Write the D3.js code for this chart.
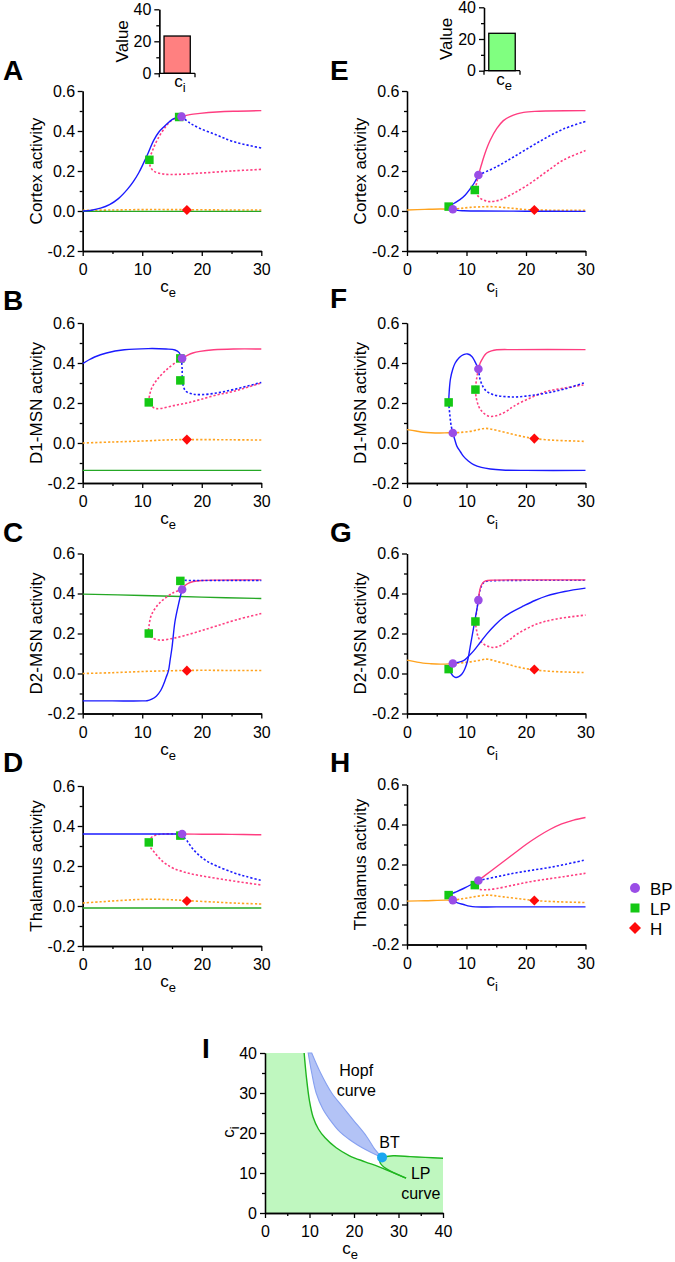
<!DOCTYPE html>
<html><head><meta charset="utf-8">
<script src="https://cdn.jsdelivr.net/npm/d3@7"></script>
<style>body{margin:0;background:#fff;}svg{display:block;background:#fff;}</style>
</head><body>
<svg id="c" width="675" height="1262"></svg>
<script>
// ---------- DATA ----------
const xTicks = [0, 10, 20, 30];
const xMinor = [5, 15, 25];
const yTicks = [-0.2, 0, 0.2, 0.4, 0.6];
const yMinor = [-0.1, 0.1, 0.3, 0.5];
const yLabels = ["Cortex activity", "D1-MSN activity", "D2-MSN activity", "Thalamus activity"];
const barTicks = [0, 20, 40];
const barMinor = [10, 30];
const barLeftCat = ["i"];   const barLeftVal = [23.3];
const barRightCat = ["e"];  const barRightVal = [23.6];
const legendNames = ["BP", "LP", "H"];
const iTicks = [0, 10, 20, 30, 40];
const iMinor = [5, 15, 25, 35];

// Panel A (vs c_e)
const A_blueS = [[0,0],[1.5,0.004],[3,0.014],[4.5,0.032],[6,0.062],[7.5,0.108],[8.5,0.147],[9.4,0.19],[10.2,0.238],[11,0.29],[11.9,0.352],[12.8,0.395],[13.6,0.42],[14.5,0.445],[15.3,0.462],[16.6,0.472]];
const A_blueU = [[16.6,0.472],[18,0.44],[19.7,0.413],[22.5,0.38],[25.3,0.347],[30,0.315]];
const A_pinkS = [[16.6,0.472],[18,0.482],[19.7,0.488],[22.5,0.495],[25.3,0.499],[30,0.502]];
const A_pinkU = [[16.2,0.47],[15,0.455],[13.9,0.42],[12.6,0.36],[11.7,0.3],[11.2,0.256],[11.4,0.22],[12,0.198],[13.5,0.185],[16,0.183],[20,0.19],[25,0.2],[30,0.208]];
const A_orangeU = [[0,0.003],[5,0.005],[10,0.007],[15,0.007],[20,0.006],[25,0.005],[30,0.005]];
const A_greenS = [[0,-0.002],[30,-0.002]];
const A_BP = [[16.6,0.472]]; const A_LP = [[16.2,0.47],[11.2,0.256]]; const A_H = [[17.5,0.005]];

// Panel B
const B_blueS = [[0,0.397],[1,0.415],[2,0.43],[4,0.45],[7,0.466],[11,0.472],[14,0.47],[15.5,0.465],[16.2,0.452],[16.6,0.423]];
const B_blueU = [[16.6,0.423],[16.7,0.37],[16.8,0.3],[17.3,0.26],[18.5,0.245],[20,0.242],[22.5,0.25],[25.3,0.267],[30,0.303]];
const B_pinkS = [[16.6,0.423],[17.5,0.437],[18.5,0.45],[19.7,0.458],[22,0.466],[25.3,0.47],[30,0.47]];
const B_pinkU = [[16.6,0.423],[14.4,0.375],[12.5,0.317],[11.6,0.275],[11.2,0.233],[11.1,0.203],[11.9,0.177],[12.4,0.172],[13,0.172],[15.3,0.187],[17.5,0.2],[19.7,0.217],[22.5,0.24],[25.3,0.258],[30,0.3]];
const B_orangeU = [[0,0],[5,0.005],[10,0.01],[15,0.016],[20,0.017],[25,0.016],[30,0.015]];
const B_greenS = [[0,-0.137],[30,-0.137]];
const B_BP = [[16.7,0.423]]; const B_LP = [[16.4,0.423],[16.4,0.313],[11.1,0.203]]; const B_H = [[17.5,0.017]];

// Panel C
const C_greenS = [[0,0.397],[10,0.39],[20,0.382],[30,0.375]];
const C_blueS = [[0,-0.137],[5,-0.137],[10,-0.137],[10.8,-0.136],[11.6,-0.128],[12.4,-0.112],[13.1,-0.085],[13.6,-0.053],[14,-0.02],[14.4,0.013],[14.7,0.07],[15,0.13],[15.5,0.26],[16.1,0.347],[16.7,0.42]];
const C_blueU = [[16.7,0.42],[16.5,0.445],[16.5,0.463],[18,0.465],[22,0.465],[30,0.465]];
const C_pinkS = [[16.7,0.42],[17.2,0.44],[17.8,0.452],[18.6,0.46],[20,0.465],[22.5,0.467],[30,0.468]];
const C_pinkU = [[16.7,0.42],[15.3,0.405],[13,0.355],[11.6,0.297],[11.15,0.24],[11.1,0.2],[11.6,0.18],[13,0.167],[15,0.175],[16.9,0.188],[19.7,0.212],[22.5,0.238],[26,0.27],[30,0.3]];
const C_orangeU = [[0,0],[5,0.004],[10,0.01],[15,0.014],[20,0.016],[25,0.015],[30,0.015]];
const C_BP = [[16.7,0.42]]; const C_LP = [[16.4,0.463],[11.1,0.2]]; const C_H = [[17.5,0.014]];

// Panel D
const D_blueS = [[0,0.36],[16.6,0.36]];
const D_blueU = [[16.6,0.36],[17,0.345],[17.5,0.327],[18.5,0.285],[19.7,0.25],[21,0.222],[22.5,0.2],[25.3,0.167],[27.5,0.147],[30,0.128]];
const D_pinkS = [[16.6,0.36],[20,0.359],[25,0.358],[30,0.356]];
const D_pinkU = [[16.6,0.36],[13.5,0.36],[12.2,0.354],[11.4,0.338],[11.1,0.318],[11.4,0.293],[12,0.27],[13,0.235],[14,0.21],[15.3,0.188],[17.5,0.166],[19.7,0.152],[22.5,0.138],[25.3,0.125],[30,0.105]];
const D_orangeU = [[0,0.015],[3,0.021],[6,0.027],[9,0.032],[12,0.034],[15,0.031],[18,0.026],[22,0.02],[26,0.014],[30,0.01]];
const D_greenS = [[0,-0.01],[30,-0.01]];
const D_BP = [[16.7,0.36]]; const D_LP = [[16.4,0.352],[11.1,0.318]]; const D_H = [[17.5,0.025]];

// Panel E (vs c_i)
const E_orangeS = [[0,0.005],[3,0.008],[5.5,0.01],[7.7,0.009]];
const E_orangeU = [[7.7,0.009],[9,0.013],[10.6,0.018],[12.5,0.021],[14,0.022],[16,0.018],[17.9,0.013],[19.5,0.008],[21.4,0.005],[25,0.004],[30,0.004]];
const E_blueU1 = [[7.7,0.009],[7.3,0.015],[7,0.022]];
const E_blueS1 = [[7,0.022],[8,0.04],[8.9,0.057],[9.8,0.08],[10.6,0.11],[11.3,0.14],[12,0.18]];
const E_blueS2 = [[7.7,0.009],[8.5,0.003],[9.5,0.001],[12,0],[20,-0.001],[30,-0.002]];
const E_blueU2 = [[12,0.18],[15.1,0.222],[17.9,0.27],[20.7,0.32],[23.5,0.368],[26.3,0.41],[30,0.448]];
const E_pinkS = [[12,0.18],[12.3,0.21],[12.6,0.24],[13.1,0.288],[14,0.355],[15.1,0.413],[16.2,0.452],[17.3,0.472],[18.5,0.486],[19.6,0.493],[21.5,0.498],[23.5,0.5],[30,0.502]];
const E_pinkU = [[12,0.18],[11.7,0.14],[11.5,0.105],[11.8,0.08],[12.4,0.062],[13.3,0.05],[14,0.047],[15.6,0.055],[17.9,0.088],[20.7,0.138],[23.5,0.198],[26.3,0.255],[30,0.302]];
const E_BP = [[7.7,0.009],[12,0.18]]; const E_LP = [[7,0.022],[11.4,0.105]]; const E_H = [[21.4,0.005]];

// Panel F
const F_orangeS = [[0,0.067],[1.5,0.06],[2.7,0.054],[4,0.051],[5.6,0.05],[7,0.051],[7.7,0.05]];
const F_orangeU = [[7.7,0.05],[9,0.053],[10.6,0.058],[12,0.067],[13.1,0.073],[14,0.07],[15.1,0.063],[16.5,0.053],[17.9,0.043],[19.5,0.032],[21.4,0.022],[24,0.015],[27,0.011],[30,0.008]];
const F_blueU1 = [[7.7,0.05],[7.4,0.09],[7.2,0.14],[7,0.203]];
const F_blueS1 = [[7,0.203],[7.1,0.26],[7.3,0.32],[7.7,0.37],[8.1,0.4],[8.8,0.428],[9.5,0.442],[10.2,0.445],[10.9,0.433],[11.4,0.408],[12,0.37]];
const F_blueS2 = [[7.7,0.05],[8.1,0.01],[8.4,-0.017],[9,-0.045],[9.5,-0.067],[10.3,-0.09],[11.2,-0.108],[12.5,-0.122],[14,-0.13],[16,-0.135],[20,-0.137],[30,-0.137]];
const F_blueU2 = [[12,0.37],[12.3,0.317],[12.8,0.28],[13.4,0.258],[14.2,0.245],[15.1,0.237],[17.9,0.23],[20.7,0.237],[23.5,0.25],[26.5,0.27],[30,0.303]];
const F_pinkS = [[12,0.37],[12.3,0.4],[12.6,0.417],[13,0.437],[13.4,0.45],[14.2,0.461],[15.1,0.466],[18,0.467],[30,0.467]];
const F_pinkU = [[12,0.37],[11.7,0.32],[11.5,0.267],[11.7,0.217],[12.1,0.18],[12.6,0.158],[13.3,0.14],[14,0.133],[14.8,0.135],[15.6,0.142],[16.8,0.16],[17.9,0.183],[20.7,0.225],[23.5,0.258],[26.5,0.275],[30,0.292]];
const F_BP = [[7.7,0.05],[12,0.37]]; const F_LP = [[7,0.203],[11.5,0.267]]; const F_H = [[21.4,0.022]];

// Panel G
const G_orangeS = [[0,0.067],[1.5,0.058],[2.7,0.052],[4,0.049],[5.6,0.047],[7,0.048],[7.7,0.05]];
const G_orangeU = [[7.7,0.05],[9,0.053],[10.6,0.058],[12,0.065],[13.3,0.072],[14.2,0.068],[15.1,0.06],[16.5,0.05],[17.9,0.038],[19.5,0.027],[21.4,0.018],[24,0.011],[27,0.007],[30,0.005]];
const G_blueU1 = [[7.7,0.05],[7.3,0.035],[7,0.022]];
const G_blueS1 = [[7,0.022],[7.4,0.002],[7.8,-0.014],[8.2,-0.02],[8.7,-0.016],[9.2,-0.004],[9.6,0.015],[10,0.045],[10.3,0.08],[10.6,0.13],[10.9,0.18],[11.3,0.247],[11.7,0.313],[12,0.367]];
const G_blueS2 = [[7.7,0.05],[8.5,0.055],[9.5,0.064],[10.3,0.085],[11.2,0.113],[12.3,0.155],[13.4,0.197],[14.8,0.243],[16.2,0.28],[17.9,0.312],[19.6,0.338],[21.5,0.365],[23.5,0.388],[26.5,0.41],[30,0.427]];
const G_blueU2 = [[12,0.367],[12.3,0.42],[12.8,0.452],[13.5,0.462],[14.5,0.464],[20,0.466],[30,0.466]];
const G_pinkS = [[12,0.367],[12.3,0.425],[12.7,0.452],[13.2,0.463],[14.5,0.467],[20,0.468],[30,0.468]];
const G_pinkU = [[12,0.367],[11.7,0.31],[11.5,0.26],[11.7,0.215],[12,0.18],[12.6,0.155],[13.4,0.138],[14.5,0.13],[15.3,0.135],[16.2,0.147],[17.3,0.17],[18.5,0.197],[21.8,0.247],[25,0.272],[30,0.292]];
const G_BP = [[7.7,0.05],[12,0.367]]; const G_LP = [[7,0.022],[11.5,0.26]]; const G_H = [[21.4,0.02]];

// Panel H
const H_orangeS = [[0,0.017],[3,0.019],[6.7,0.022],[7.7,0.02]];
const H_orangeU = [[7.7,0.02],[9,0.027],[10.6,0.035],[12,0.042],[13.4,0.047],[14.5,0.045],[16.2,0.038],[18.5,0.03],[21.4,0.02],[25,0.014],[30,0.01]];
const H_blueU1 = [[7.7,0.02],[7.3,0.035],[7,0.047]];
const H_blueS1 = [[7,0.047],[8,0.06],[9.5,0.08],[10.8,0.1],[12,0.12]];
const H_blueS2 = [[7.7,0.02],[8.5,0.008],[9.5,0],[10.5,-0.008],[11.5,-0.012],[15,-0.012],[30,-0.012]];
const H_blueU2 = [[12,0.12],[15,0.138],[17.9,0.156],[20.7,0.17],[23.5,0.183],[26.5,0.2],[30,0.223]];
const H_pinkS = [[12,0.12],[14,0.165],[16,0.21],[18,0.255],[20,0.3],[22,0.34],[24,0.375],[26,0.403],[28,0.422],[30,0.435]];
const H_pinkU = [[12,0.12],[11.6,0.105],[11.4,0.097],[11.8,0.082],[12.3,0.075],[13.5,0.074],[15.1,0.08],[17.9,0.097],[20.7,0.114],[23.5,0.127],[26.3,0.139],[30,0.156]];
const H_BP = [[7.7,0.022],[12,0.12]]; const H_LP = [[7,0.047],[11.4,0.097]]; const H_H = [[21.4,0.02]];

// Panel I (c_e, c_i)
const I_lpLeft = [[8.8,40],[9.3,34],[10,28],[10.8,24],[12,21],[13.5,18.8],[16,16.3],[19,14.3],[22.5,12.8],[25.5,11.6],[28.5,10.2],[31.7,8.7]];
const I_lpInner = [[31.7,8.7],[29.5,9.8],[27.5,10.9],[26.3,11.9],[25.8,12.8],[25.9,13.5],[26.3,13.9]];
const I_lpRight = [[26.3,13.9],[28.8,14.3],[32.6,14.1],[36,13.9],[40,13.7]];
const I_hopfLower = [[9.7,40],[10.5,35],[11.5,30],[13,26],[14.6,23.3],[16.9,20.2],[18.8,18.5],[20.8,17],[23,15.6],[24.8,14.6],[26.3,13.9]];
const I_hopfUpper = [[10.5,40],[12.5,35],[15,30],[17.5,26.5],[19.8,23.3],[22.8,19.2],[24.7,15.9],[26.3,13.9]];
const I_BT = [26.3, 13.9];

// ---------- STYLE ----------
const FONT = 'Arial, "Liberation Sans", sans-serif';
const COL = {blue:"#1a1aff", pink:"#ff3d80", orange:"#ffa31f", green:"#25a825",
             BP:"#9a4de6", LP:"#14c814", H:"#ff0a0a"};

const panels = [
 {L:"A", c:0, top:91,  lb:80,  row:0, sub:"e", curves:[[A_orangeU,"orange",1],[A_greenS,"green",0],[A_pinkU,"pink",1],[A_pinkS,"pink",0],[A_blueU,"blue",1],[A_blueS,"blue",0]], BP:A_BP, LP:A_LP, H:A_H},
 {L:"B", c:0, top:323, lb:310, row:1, sub:"e", curves:[[B_orangeU,"orange",1],[B_greenS,"green",0],[B_pinkU,"pink",1],[B_pinkS,"pink",0],[B_blueU,"blue",1],[B_blueS,"blue",0]], BP:B_BP, LP:B_LP, H:B_H},
 {L:"C", c:0, top:553.5, lb:542, row:2, sub:"e", curves:[[C_orangeU,"orange",1],[C_greenS,"green",0],[C_pinkU,"pink",1],[C_pinkS,"pink",0],[C_blueU,"blue",1],[C_blueS,"blue",0]], BP:C_BP, LP:C_LP, H:C_H},
 {L:"D", c:0, top:786, lb:772, row:3, sub:"e", curves:[[D_orangeU,"orange",1],[D_greenS,"green",0],[D_pinkU,"pink",1],[D_pinkS,"pink",0],[D_blueU,"blue",1],[D_blueS,"blue",0]], BP:D_BP, LP:D_LP, H:D_H},
 {L:"E", c:1, top:91,  lb:80,  row:0, sub:"i", curves:[[E_orangeU,"orange",1],[E_orangeS,"orange",0],[E_pinkU,"pink",1],[E_pinkS,"pink",0],[E_blueU1,"blue",1],[E_blueU2,"blue",1],[E_blueS1,"blue",0],[E_blueS2,"blue",0]], BP:E_BP, LP:E_LP, H:E_H},
 {L:"F", c:1, top:323, lb:308, row:1, sub:"i", curves:[[F_orangeU,"orange",1],[F_orangeS,"orange",0],[F_pinkU,"pink",1],[F_pinkS,"pink",0],[F_blueU1,"blue",1],[F_blueU2,"blue",1],[F_blueS1,"blue",0],[F_blueS2,"blue",0]], BP:F_BP, LP:F_LP, H:F_H},
 {L:"G", c:1, top:553.5, lb:542, row:2, sub:"i", curves:[[G_orangeU,"orange",1],[G_orangeS,"orange",0],[G_pinkU,"pink",1],[G_blueU2,"blue",1],[G_pinkS,"pink",0],[G_blueU1,"blue",1],[G_blueS1,"blue",0],[G_blueS2,"blue",0]], BP:G_BP, LP:G_LP, H:G_H},
 {L:"H", c:1, top:784.5, lb:772, row:3, sub:"i", curves:[[H_orangeU,"orange",1],[H_orangeS,"orange",0],[H_pinkU,"pink",1],[H_pinkS,"pink",0],[H_blueU1,"blue",1],[H_blueU2,"blue",1],[H_blueS1,"blue",0],[H_blueS2,"blue",0]], BP:H_BP, LP:H_LP, H:H_H}
];
const colGeom = [{x0:82.7, x1:261.3, letterX:3, ylabX:42}, {x0:407, x1:585.5, letterX:330, ylabX:366}];

const svg = d3.select("#c");

function styleAxis(g, fs) {
  g.selectAll("path,line").attr("stroke", "#000").attr("stroke-width", 1.3);
  g.selectAll("text").attr("font-size", fs || 16).attr("fill", "#000").attr("font-family", FONT);
}
function subLabel(parent, x, y, sub, rotate) {
  const t = parent.append("text").attr("font-family", FONT).attr("font-size", 17).attr("fill", "#000")
    .attr("text-anchor", "middle");
  if (rotate) t.attr("transform", `translate(${x},${y}) rotate(-90)`); else t.attr("x", x).attr("y", y);
  t.append("tspan").text("c");
  t.append("tspan").attr("dy", 5).attr("font-size", 13).text(sub);
  return t;
}
function drawMarkers(g, pts, kind, x, y, big) {
  pts.forEach(p => {
    const cx = x(p[0]), cy = y(p[1]);
    if (kind === "BP") g.append("circle").attr("cx", cx).attr("cy", cy).attr("r", big ? 5 : 4.3).attr("fill", COL.BP);
    else if (kind === "LP") { const s = big ? 9 : 8.5; g.append("rect").attr("x", cx - s/2).attr("y", cy - s/2).attr("width", s).attr("height", s).attr("fill", COL.LP); }
    else { const s = big ? 8.5 : 7.2; g.append("rect").attr("x", -s/2).attr("y", -s/2).attr("width", s).attr("height", s).attr("fill", COL.H).attr("transform", `translate(${cx},${cy}) rotate(45)`); }
  });
}

panels.forEach(p => {
  const cg = colGeom[p.c];
  const x = d3.scaleLinear().domain([0, 30]).range([cg.x0, cg.x1]);
  const y = d3.scaleLinear().domain([-0.2, 0.6]).range([p.top + 160, p.top]);
  const g = svg.append("g");
  const gx = g.append("g").attr("transform", `translate(0,${p.top + 160})`)
    .call(d3.axisBottom(x).tickValues(xTicks).tickFormat(d3.format("d")).tickSize(5).tickSizeOuter(0).tickPadding(8));
  styleAxis(gx);
  const gxm = g.append("g").attr("transform", `translate(0,${p.top + 160})`)
    .call(d3.axisBottom(x).tickValues(xMinor).tickFormat("").tickSize(3).tickSizeOuter(0));
  styleAxis(gxm);
  const gy = g.append("g").attr("transform", `translate(${cg.x0},0)`)
    .call(d3.axisLeft(y).tickValues(yTicks).tickFormat(d3.format(".1f")).tickSize(5).tickSizeOuter(0).tickPadding(2.5));
  styleAxis(gy);
  gy.selectAll("text").text(d => d3.format(".1f")(d).replace("−", "-"));
  const gym = g.append("g").attr("transform", `translate(${cg.x0},0)`)
    .call(d3.axisLeft(y).tickValues(yMinor).tickFormat("").tickSize(3).tickSizeOuter(0));
  styleAxis(gym);
  const line = d3.line().x(d => x(d[0])).y(d => y(d[1])).curve(d3.curveCatmullRom.alpha(0.5));
  p.curves.forEach(([data, col, dashed]) => {
    g.append("path").attr("d", line(data)).attr("fill", "none").attr("stroke", COL[col])
      .attr("stroke-width", dashed ? 1.6 : 1.4).attr("stroke-dasharray", dashed ? "2.2,2" : null);
  });
  drawMarkers(g, p.LP, "LP", x, y);
  drawMarkers(g, p.BP, "BP", x, y);
  drawMarkers(g, p.H, "H", x, y);
  g.append("text").attr("x", cg.letterX).attr("y", p.lb).attr("font-family", FONT).attr("font-weight", "bold")
    .attr("font-size", 28).text(p.L);
  g.append("text").attr("transform", `translate(${cg.ylabX},${p.top + 80}) rotate(-90)`).attr("text-anchor", "middle")
    .attr("font-family", FONT).attr("font-size", 17).text(yLabels[p.row]);
  subLabel(g, (cg.x0 + cg.x1) / 2 - 4, p.top + 160 + 41, p.sub, false);
});

// ---------- small bar charts ----------
function barChart(ax, y0, y40, right, cats, vals, color, valX, catX) {
  const y = d3.scaleLinear().domain([0, 40]).range([y0, y40]);
  const x = d3.scaleBand().domain(cats).range([ax, right]).paddingInner(0).paddingOuter(0.18);
  const g = svg.append("g");
  g.selectAll("rect").data(vals).enter().append("rect")
    .attr("x", (d, i) => x(cats[i])).attr("width", x.bandwidth())
    .attr("y", d => y(d)).attr("height", d => y(0) - y(d))
    .attr("fill", color).attr("stroke", "#000").attr("stroke-width", 1.3);
  const gy = g.append("g").attr("transform", `translate(${ax},0)`)
    .call(d3.axisLeft(y).tickValues(barTicks).tickSize(5).tickSizeOuter(0).tickPadding(3));
  styleAxis(gy);
  const gym = g.append("g").attr("transform", `translate(${ax},0)`)
    .call(d3.axisLeft(y).tickValues(barMinor).tickFormat("").tickSize(3).tickSizeOuter(0));
  styleAxis(gym);
  g.append("line").attr("x1", ax).attr("x2", ax).attr("y1", y0).attr("y2", y0 + 4).attr("stroke", "#000").attr("stroke-width", 1.3);
  g.append("line").attr("x1", ax).attr("x2", right).attr("y1", y0).attr("y2", y0).attr("stroke", "#000").attr("stroke-width", 1.3);
  g.append("line").attr("x1", right).attr("x2", right).attr("y1", y0).attr("y2", y0 + 4).attr("stroke", "#000").attr("stroke-width", 1.3);
  g.append("text").attr("transform", `translate(${valX},${(y0 + y40) / 2}) rotate(-90)`).attr("text-anchor", "middle")
    .attr("font-family", FONT).attr("font-size", 17).text("Value");
  subLabel(g, catX, y0 + 14, cats[0], false);
}
barChart(159.3, 73.3, 9.3, 195, barLeftCat, barLeftVal, "#ff8080", 128, 180);
barChart(484, 70.7, 7.3, 520, barRightCat, barRightVal, "#80ff80", 452, 504);

// ---------- legend ----------
const legY = d3.scalePoint().domain(legendNames).range([888, 928]);
legendNames.forEach(n => {
  const lg = svg.append("g");
  drawMarkers(lg, [[0, 0]], n, () => 635, () => legY(n), true);
  lg.append("text").attr("x", 650).attr("y", legY(n) + 6.5).attr("font-family", FONT).attr("font-size", 17).text(n);
});

// ---------- panel I ----------
(function () {
  const xi = d3.scaleLinear().domain([0, 40]).range([265, 443]);
  const yi = d3.scaleLinear().domain([0, 40]).range([1213, 1053]);
  const g = svg.append("g");
  const line = d3.line().x(d => xi(d[0])).y(d => yi(d[1])).curve(d3.curveCatmullRom.alpha(0.5));
  const seg = pts => line(pts).replace(/^M/, "L");
  const greenD = `M${xi(0)},${yi(0)}L${xi(0)},${yi(40)}` + seg(I_lpLeft) + seg(I_lpInner) + seg(I_lpRight) + `L${xi(40)},${yi(0)}Z`;
  g.append("path").attr("d", greenD).attr("fill", "#bff7bf").attr("stroke", "none");
  const hopfD = line(I_hopfUpper) + seg(I_hopfLower.slice().reverse()) + "Z";
  g.append("path").attr("d", hopfD).attr("fill", "#b3c3f6").attr("stroke", "#86a0f0").attr("stroke-width", 1.1);
  [I_lpLeft, I_lpInner, I_lpRight].forEach(d => g.append("path").attr("d", line(d)).attr("fill", "none")
    .attr("stroke", "#1fb51f").attr("stroke-width", 1.4));
  g.append("circle").attr("cx", xi(I_BT[0])).attr("cy", yi(I_BT[1])).attr("r", 5).attr("fill", "#1aa6f0");
  const gx = g.append("g").attr("transform", `translate(0,1213)`)
    .call(d3.axisBottom(xi).tickValues(iTicks).tickSize(5).tickSizeOuter(0).tickPadding(8));
  styleAxis(gx);
  const gxm = g.append("g").attr("transform", `translate(0,1213)`)
    .call(d3.axisBottom(xi).tickValues(iMinor).tickFormat("").tickSize(3).tickSizeOuter(0));
  styleAxis(gxm);
  const gy = g.append("g").attr("transform", `translate(265,0)`)
    .call(d3.axisLeft(yi).tickValues(iTicks).tickSize(5).tickSizeOuter(0).tickPadding(3));
  styleAxis(gy);
  const gym = g.append("g").attr("transform", `translate(265,0)`)
    .call(d3.axisLeft(yi).tickValues(iMinor).tickFormat("").tickSize(3).tickSizeOuter(0));
  styleAxis(gym);
  const txt = (s, cx, cy, anchor) => g.append("text").attr("x", xi(cx)).attr("y", yi(cy)).attr("text-anchor", anchor || "middle")
    .attr("font-family", FONT).attr("font-size", 16).text(s);
  txt("Hopf", 20.5, 34.2); txt("curve", 20.5, 29.2); txt("BT", 28, 16.2); txt("LP", 35, 8.4); txt("curve", 35, 3.4);
  g.append("text").attr("x", 202).attr("y", 1058).attr("font-family", FONT).attr("font-weight", "bold").attr("font-size", 28).text("I");
  subLabel(g, 234, 1132, "i", true);
  subLabel(g, 350, 1254, "e", false);
})();
</script>
</body></html>
